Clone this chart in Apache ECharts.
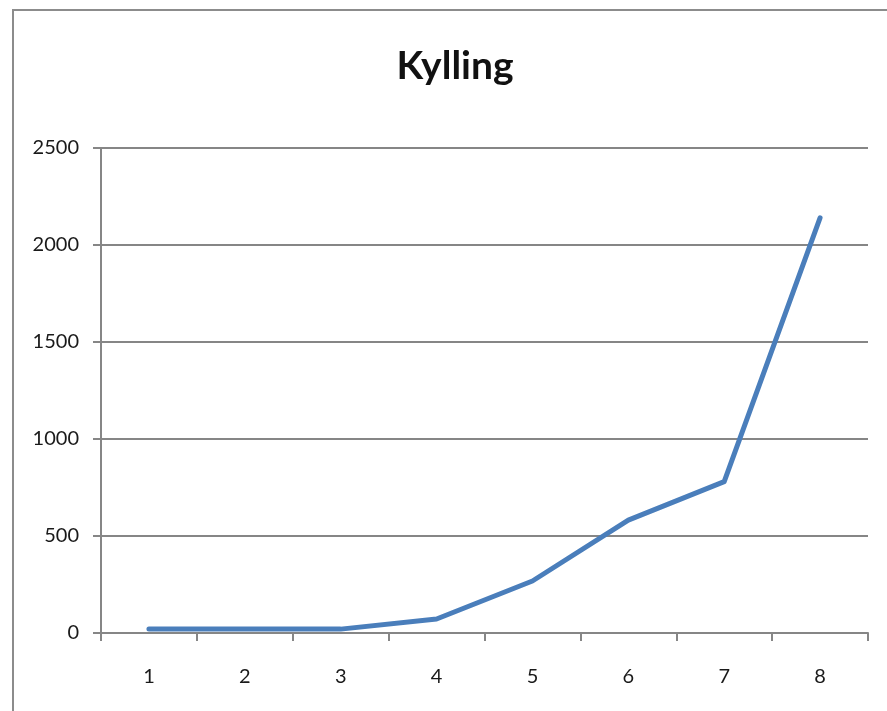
<!DOCTYPE html>
<html>
<head>
<meta charset="utf-8">
<script src="https://cdn.jsdelivr.net/npm/echarts@6/dist/echarts.min.js"></script>
<style>
    html, body { margin: 0; padding: 0; background: #fff; }
    #chart { width: 887px; height: 711px; }
</style>
</head>
<body>
<div id="chart"></div>
<script>
// data
const categories = ['1', '2', '3', '4', '5', '6', '7', '8'];
const kylling = [20, 20, 20, 72, 268, 582, 780, 2140];
const yTicks = { min: 0, max: 2500, interval: 500 };

var myChart = echarts.init(document.getElementById('chart'));
myChart.setOption({
    animation: false,
    textStyle: { fontFamily: 'Lato' },
    title: {
        text: 'Kylling',
        left: 450,
        textAlign: 'center',
        top: 42,
        textStyle: { fontFamily: 'Lato', fontSize: 39, fontWeight: 'bold', color: '#111' }
    },
    // outer chart frame (only left and top edges are in view)
    graphic: [{
        type: 'polyline',
        shape: { points: [[13, 711], [13, 10], [887, 10]] },
        style: { stroke: '#8c8c8c', lineWidth: 2, fill: null }
    }],
    grid: { left: 101, right: 19, top: 148, bottom: 78 },
    xAxis: {
        type: 'category',
        data: categories,
        boundaryGap: true,
        axisLine: { lineStyle: { color: '#868686', width: 2 } },
        axisTick: { show: true, length: 8, lineStyle: { color: '#868686', width: 2 } },
        axisLabel: { fontSize: 20, color: '#1a1a1a', margin: 34 },
        splitLine: { show: false }
    },
    yAxis: {
        type: 'value',
        min: yTicks.min,
        max: yTicks.max,
        interval: yTicks.interval,
        axisLine: { show: true, lineStyle: { color: '#868686', width: 2 } },
        axisTick: { show: true, length: 8, lineStyle: { color: '#868686', width: 2 } },
        axisLabel: { fontSize: 20, color: '#1a1a1a', margin: 22, formatter: (v) => String(v) },
        splitLine: { show: true, lineStyle: { color: '#868686', width: 2 } }
    },
    series: [{
        type: 'line',
        data: kylling,
        symbol: 'none',
        lineStyle: { color: '#4a7ebb', width: 5, cap: 'round', join: 'round' }
    }]
});
</script>
</body>
</html>
